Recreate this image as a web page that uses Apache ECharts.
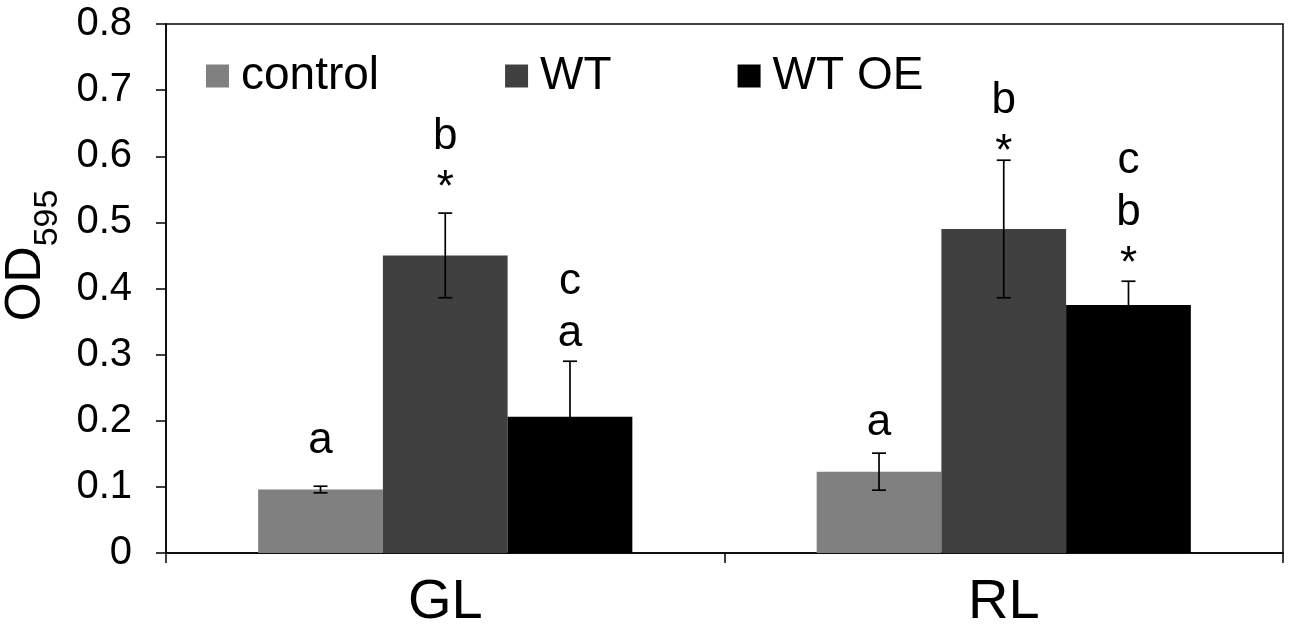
<!DOCTYPE html>
<html>
<head>
<meta charset="utf-8">
<script src="https://cdn.jsdelivr.net/npm/echarts@6/dist/echarts.min.js"></script>
<style>
  html, body { margin: 0; padding: 0; background: #fff; }
  #main { width: 1293px; height: 633px; }
</style>
</head>
<body>
<div id="main"></div>
<script>
// categories and groups
var categories = ['GL', 'RL'];
var seriesNames = ['control', 'WT', 'WT OE'];
var seriesColors = ['#808080', '#404040', '#000000'];

// means and error (± SD)
var controlMean = [0.096, 0.123];
var controlErr = [0.005, 0.028];
var wtMean = [0.450, 0.490];
var wtErr = [0.064, 0.104];
var wtOeMean = [0.206, 0.375];
var wtOeErr = [0.084, 0.036];

// significance letters, and the value where the last line sits
var controlMark = ['a', 'a'];
var controlMarkAt = [0.148, 0.176];
var wtMark = ['b\n*', 'b\n*'];
var wtMarkAt = [0.530, 0.584];
var wtOeMark = ['c\na', 'c\nb\n*'];
var wtOeMarkAt = [0.310, 0.415];

var yTicks = { min: 0, max: 0.8, interval: 0.1 };

var FONT = 'Liberation Sans, Arial, sans-serif';
var means = [controlMean, wtMean, wtOeMean];
var errs = [controlErr, wtErr, wtOeErr];
var marks = [controlMark, wtMark, wtOeMark];
var marksAt = [controlMarkAt, wtMarkAt, wtOeMarkAt];

// one row per bar: [category, series, mean, err, markAt, mark]
var errData = [];
for (var s = 0; s < 3; s++) {
    for (var c = 0; c < categories.length; c++) {
        errData.push([c, s, means[s][c], errs[s][c], marksAt[s][c], marks[s][c]]);
    }
}

function renderErr(params, api) {
    var cat = api.value(0);
    var s = api.value(1);
    var mean = api.value(2);
    var err = api.value(3);
    var markAt = api.value(4);
    var mark = errData[params.dataIndex][5];
    var band = api.size([1, 0])[0];
    var bw = band * 0.67 / 3;
    var dx = (s - 1) * bw;
    var top = api.coord([cat, mean + err]);
    var bot = api.coord([cat, mean - err]);
    var lab = api.coord([cat, markAt]);
    var x = top[0] + dx;
    var cap = 7;
    var st = { stroke: '#000', lineWidth: 1.7 };
    return {
        type: 'group',
        children: [
            { type: 'line', shape: { x1: x, y1: top[1], x2: x, y2: bot[1] }, style: st },
            { type: 'line', shape: { x1: x - cap, y1: top[1], x2: x + cap, y2: top[1] }, style: st },
            { type: 'line', shape: { x1: x - cap, y1: bot[1], x2: x + cap, y2: bot[1] }, style: st },
            {
                type: 'text',
                x: x,
                y: lab[1] + 12,
                style: {
                    text: mark,
                    fill: '#000',
                    font: '44px ' + FONT,
                    align: 'center',
                    verticalAlign: 'bottom',
                    lineHeight: 52
                }
            }
        ]
    };
}

var series = [];
for (var i = 0; i < 3; i++) {
    series.push({
        name: seriesNames[i],
        type: 'bar',
        data: means[i],
        barGap: '0%',
        barCategoryGap: '33%',
        itemStyle: { color: seriesColors[i] },
        silent: true
    });
}
series.push({
    type: 'custom',
    renderItem: renderErr,
    data: errData,
    encode: { x: 0, y: 2 },
    z: 10,
    silent: true
});

var chart = echarts.init(document.getElementById('main'));
chart.setOption({
    animation: false,
    backgroundColor: '#fff',
    grid: {
        left: 166, right: 10, top: 24, bottom: 80,
        containLabel: false,
        outerBoundsMode: 'none',
        show: true, borderColor: '#000', borderWidth: 1.5
    },
    legend: {
        data: seriesNames,
        left: 201,
        top: 48,
        icon: 'rect',
        itemWidth: 23,
        itemHeight: 23,
        itemGap: 126,
        textStyle: { fontSize: 46, fontFamily: FONT, color: '#000', padding: [0, 0, 0, 7] }
    },
    xAxis: {
        type: 'category',
        data: categories,
        axisLine: { show: true, lineStyle: { color: '#000', width: 1.5 } },
        axisTick: { show: true, length: 10, lineStyle: { color: '#000', width: 1.5 } },
        axisLabel: { fontSize: 56, fontFamily: FONT, color: '#000', margin: 22 }
    },
    yAxis: {
        type: 'value',
        min: yTicks.min,
        max: yTicks.max,
        interval: yTicks.interval,
        name: '{a|OD}{b|595}',
        nameLocation: 'middle',
        nameGap: 101,
        nameTextStyle: {
            padding: [0, 0, 0, 66],
            rich: {
                a: { fontSize: 50, fontFamily: FONT, color: '#000', verticalAlign: 'bottom', padding: [0, 0, 14, 0] },
                b: { fontSize: 34, fontFamily: FONT, color: '#000', verticalAlign: 'bottom' }
            }
        },
        splitLine: { show: false },
        axisLine: { show: true, lineStyle: { color: '#000', width: 1.5 } },
        axisTick: { show: true, length: 10, lineStyle: { color: '#000', width: 1.5 } },
        axisLabel: { fontSize: 40, fontFamily: FONT, color: '#000', margin: 34 }
    },
    series: series
});
</script>
</body>
</html>
